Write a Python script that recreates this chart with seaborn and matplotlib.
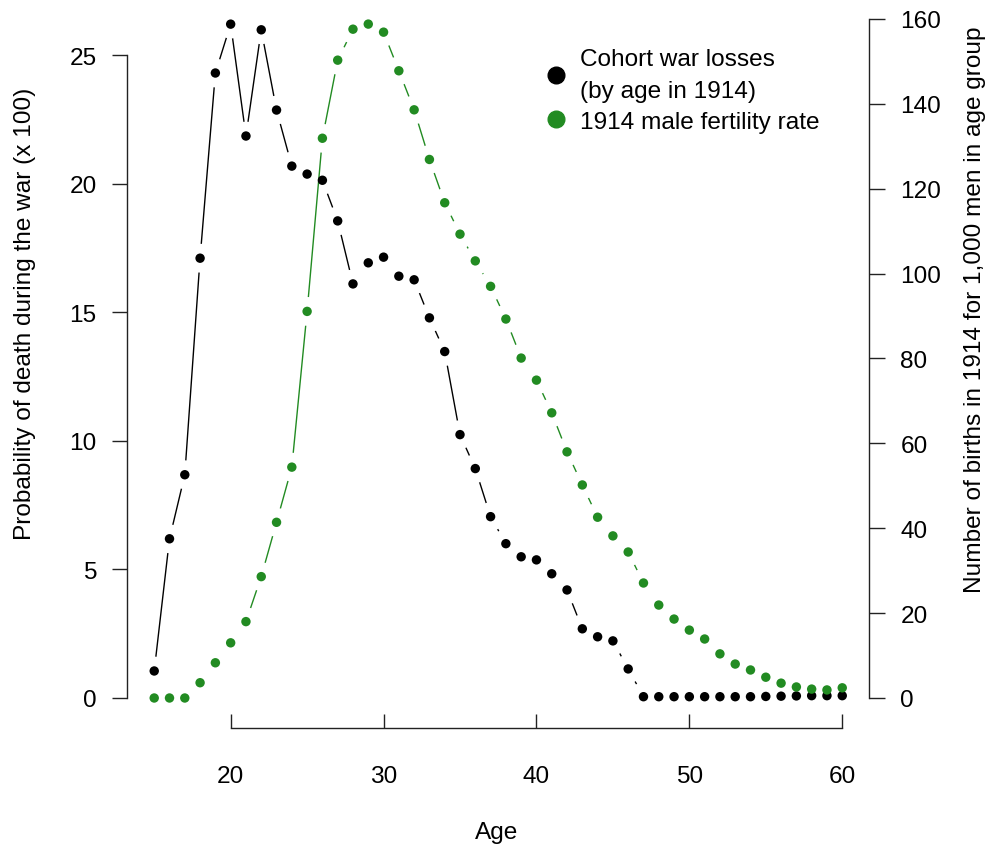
import numpy as np
import pandas as pd
import matplotlib
matplotlib.use("Agg")
import matplotlib.pyplot as plt
import seaborn as sns
from matplotlib.lines import Line2D

# ages in 1914
ages = list(range(15, 61))

# probability of death during the war (x 100), by age in 1914
war_losses = [1.05, 6.19, 8.68, 17.1, 24.3, 26.2, 21.85, 25.98, 22.86, 20.68,
              20.37, 20.13, 18.55, 16.1, 16.92, 17.14, 16.4, 16.26, 14.78, 13.47,
              10.24, 8.92, 7.05, 6.0, 5.49, 5.37, 4.83, 4.2, 2.69, 2.38,
              2.22, 1.13, 0.05, 0.05, 0.05, 0.05, 0.05, 0.05, 0.05, 0.05,
              0.06, 0.07, 0.08, 0.09, 0.09, 0.09]

# births in 1914 per 1,000 men in age group
fertility = [0, 0, 0, 3.6, 8.3, 13.0, 18.0, 28.6, 41.4, 54.4,
             91.1, 131.9, 150.3, 157.6, 158.8, 156.9, 147.8, 138.6, 126.9, 116.7,
             109.3, 103.0, 97.0, 89.3, 80.1, 74.9, 67.2, 58.0, 50.2, 42.6,
             38.2, 34.4, 27.1, 21.9, 18.6, 16.0, 13.9, 10.4, 8.0, 6.6,
             4.9, 3.5, 2.6, 2.1, 1.9, 2.4]

left_ticks = [0, 5, 10, 15, 20, 25]
right_ticks = [0, 20, 40, 60, 80, 100, 120, 140, 160]
x_ticks = [20, 30, 40, 50, 60]

d = pd.DataFrame({"age": ages, "losses": war_losses, "fert": fertility})

sns.set_style("white")
plt.rcParams['font.family'] = ['Liberation Sans', 'DejaVu Sans']
plt.rcParams['text.color'] = 'black'
plt.rcParams['axes.labelcolor'] = 'black'
plt.rcParams['xtick.color'] = 'black'
plt.rcParams['ytick.color'] = 'black'
fs = 17.6
green = "#228B22"

fig = plt.figure(figsize=(9.92, 8.53), dpi=100)
ax = fig.add_axes([127/992, 1-729/853, (869-127)/992, (729-20)/853])
ax2 = ax.twinx()

# black line with white halos round the points (R type="b" look)
sns.lineplot(data=d, x="age", y="losses", ax=ax, color="black", lw=1.0, zorder=1)
sns.scatterplot(data=d, x="age", y="losses", ax=ax, color="white", s=430,
                edgecolor="none", zorder=2, clip_on=False)
# green line + halos on the right-hand axis
sns.lineplot(data=d, x="age", y="fert", ax=ax2, color=green, lw=1.0, zorder=1)
sns.scatterplot(data=d, x="age", y="fert", ax=ax2, color="white", s=430,
                edgecolor="none", zorder=2, clip_on=False)
# points on top of everything
ax2.scatter(d["age"], d["losses"], transform=ax.transData, color="black", s=46,
            edgecolor="none", zorder=3, clip_on=False)
sns.scatterplot(data=d, x="age", y="fert", ax=ax2, color=green, s=46,
                edgecolor="none", zorder=4, clip_on=False)

ax.set_xlim(13.22, 61.75)
ax.set_ylim(-1.167, 26.40)
ax2.set_ylim(-7.07, 160.0)

ax.set_yticks(left_ticks)
ax.set_xticks(x_ticks)
ax2.set_yticks(right_ticks)

for s in ["top", "right"]:
    ax.spines[s].set_visible(False)
for s in ["top", "left", "bottom"]:
    ax2.spines[s].set_visible(False)
ax.spines["left"].set_bounds(0, 25)
ax.spines["bottom"].set_bounds(20, 60)
ax2.spines["right"].set_bounds(0, 160)
for sp in [ax.spines["left"], ax.spines["bottom"], ax2.spines["right"]]:
    sp.set_linewidth(1.0)
    sp.set_color("#222222")

ax.tick_params(axis="y", direction="out", length=10.8, width=1.0, pad=11,
               labelsize=fs, color="#222222", left=True)
ax.tick_params(axis="x", direction="in", length=10, width=1.0, pad=27,
               labelsize=fs, color="#222222", bottom=True)
ax2.tick_params(axis="y", direction="out", length=11.5, width=1.0, pad=11,
                labelsize=fs, color="#222222", right=True)

ax.set_xlabel("Age", fontsize=fs)
ax.set_ylabel("Probability of death during the war (x 100)", fontsize=fs)
ax2.set_ylabel("Number of births in 1914 for 1,000 men in age group", fontsize=fs)
ax.xaxis.set_label_coords(497/992, 1-833/853, transform=fig.transFigure)
ax.yaxis.set_label_coords(25/992, 1-314/853, transform=fig.transFigure)
ax2.yaxis.set_label_coords(975/992, 1-310/853, transform=fig.transFigure)
ax.xaxis.label.set_va("center")
ax.yaxis.label.set_va("center")
ax2.yaxis.label.set_va("center")

handles = [Line2D([], [], ls="none", marker="o", color="black", markersize=12),
           Line2D([], [], ls="none", marker="o", color=green, markersize=12)]
leg = fig.legend(handles, ["Cohort war losses\n(by age in 1914)", "1914 male fertility rate"],
                 loc="upper left", bbox_to_anchor=(532/992, 1-37/853), frameon=False,
                 fontsize=fs, handlelength=1.0, handletextpad=0.45, labelspacing=0.37,
                 borderpad=0)
leg.get_texts()[0].set_linespacing(1.55)

fig.savefig("out.png", dpi=100)
